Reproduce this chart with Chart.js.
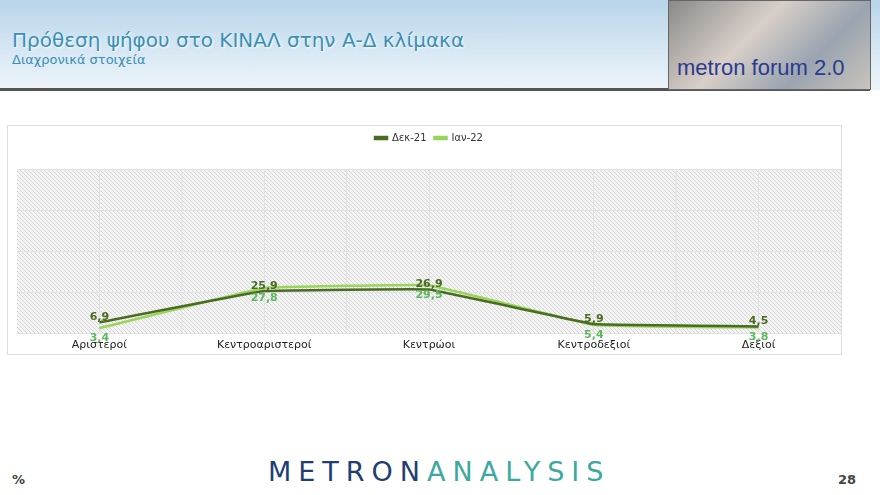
<!DOCTYPE html>
<html><head><meta charset="utf-8">
<script src="https://cdn.jsdelivr.net/npm/chart.js@4"></script>
<style>
body{margin:0;width:880px;height:495px;background:#fff;font-family:"DejaVu Sans",sans-serif;position:relative;overflow:hidden}
#hdr{position:absolute;left:0;top:0;width:880px;height:90px;background:linear-gradient(#b9d5ea,#eef5fa)}
#line{position:absolute;left:0;top:88px;width:870px;height:3px;background:#555}
#t1{position:absolute;left:12px;top:28px;font-size:20px;color:#3b8fb5;text-shadow:1px 1px 2px #fff}
#t2{position:absolute;left:12px;top:52px;font-size:13px;color:#3b8fb5}
#img{position:absolute;left:668px;top:0;width:201px;height:88px;background:linear-gradient(135deg,#8a8a8a,#d8cfc8 40%,#9aa4b0 70%,#c9c3bb);border:1px solid #666}
#img span{position:absolute;left:8px;bottom:8px;font-family:"Liberation Sans Narrow","Liberation Sans",sans-serif;font-size:22px;color:#2a3b8f}
#box{position:absolute;left:7px;top:125px;width:833px;height:228px;border:1px solid #ddd}
#wrap{position:absolute;left:7px;top:125px;width:834px;height:240px}
#logo{position:absolute;left:268px;top:456px;font-size:27px;letter-spacing:7px;color:#1f3f73}
#logo b{font-weight:normal;color:#3da8a0}
#pc{position:absolute;left:12px;top:472px;font-size:13px;font-weight:bold;color:#444}
#pg{position:absolute;left:838px;top:472px;font-size:13px;font-weight:bold;color:#444}
</style></head><body>
<div id="hdr"></div><div id="line"></div>
<div id="t1">Πρόθεση ψήφου στο ΚΙΝΑΛ στην Α-Δ κλίμακα</div>
<div id="t2">Διαχρονικά στοιχεία</div>
<div id="img"><span>metron forum 2.0</span></div>
<div id="box"></div>
<div id="wrap"><canvas id="c"></canvas></div>
<div id="logo">METRON<b>ANALYSIS</b></div>
<div id="pc">%</div><div id="pg">28</div>
<script>
const categories = ['Αριστεροί', 'Κεντροαριστεροί', 'Κεντρώοι', 'Κεντροδεξιοί', 'Δεξιοί'];
const dec21 = [6.9, 25.9, 26.9, 5.9, 4.5];
const jan22 = [3.4, 27.8, 29.5, 5.4, 3.8];

function hatch() {
  const p = document.createElement('canvas');
  p.width = 4; p.height = 4;
  const g = p.getContext('2d');
  g.fillStyle = '#f4f4f4'; g.fillRect(0, 0, 4, 4);
  g.strokeStyle = '#d6d6d6'; g.lineWidth = 1;
  g.beginPath(); g.moveTo(0, 0); g.lineTo(4, 4); g.stroke();
  return g.createPattern(p, 'repeat');
}

const bgPlugin = {
  id: 'bg',
  beforeDraw(chart) {
    const a = chart.chartArea, ctx = chart.ctx;
    ctx.save();
    ctx.fillStyle = hatch();
    ctx.fillRect(a.left, a.top, a.right - a.left, a.bottom - a.top);
    ctx.strokeStyle = '#e2e2e2';
    const w = (a.right - a.left) / categories.length;
    for (let i = 1; i < categories.length; i++) {
      const x = a.left + w * i;
      ctx.beginPath(); ctx.moveTo(x, a.top); ctx.lineTo(x, a.bottom); ctx.stroke();
    }
    ctx.restore();
  }
};

const labelPlugin = {
  id: 'lbl',
  afterDatasetsDraw(chart) {
    const ctx = chart.ctx;
    ctx.save();
    ctx.font = 'bold 11px "DejaVu Sans"';
    ctx.textAlign = 'center';
    chart.data.datasets.forEach((ds, di) => {
      chart.getDatasetMeta(di).data.forEach((pt, i) => {
        ctx.fillStyle = di === 0 ? '#4a6b22' : '#5cb85c';
        const y = di === 0 ? pt.y - 5 : pt.y + 10;
        ctx.fillText(String(ds.data[i]).replace('.', ','), pt.x, y);
      });
    });
    ctx.restore();
  }
};

const legendGap = {
  id: 'gap',
  beforeInit(chart) {
    const fit = chart.legend.fit;
    chart.legend.fit = function () { fit.bind(chart.legend)(); this.height += 16; };
  }
};

new Chart(document.getElementById('c'), {
  type: 'line',
  data: {
    labels: categories,
    datasets: [{
      label: 'Δεκ-21',
      data: dec21,
      borderColor: '#4a6b22',
      backgroundColor: '#4a6b22',
      borderWidth: 2.5,
      pointRadius: 0,
      tension: 0.05
    }, {
      label: 'Ιαν-22',
      data: jan22,
      borderColor: '#9ad45a',
      backgroundColor: '#9ad45a',
      borderWidth: 2.5,
      pointRadius: 0,
      tension: 0.05
    }]
  },
  options: {
    responsive: true,
    maintainAspectRatio: false,
    animation: false,
    layout: { padding: { left: 10, right: 0, top: 0, bottom: 8 } },
    plugins: {
      legend: {
        position: 'top',
        labels: { boxWidth: 12, boxHeight: 2, font: { size: 10, family: 'DejaVu Sans' }, color: '#333', padding: 8 }
      },
      tooltip: { enabled: false }
    },
    scales: {
      x: {
        offset: true,
        grid: { color: '#e2e2e2', offset: false, drawTicks: false },
        border: { display: false },
        ticks: { color: '#222', font: { size: 11, family: 'DejaVu Sans' }, padding: 5 }
      },
      y: {
        min: 0, max: 100,
        ticks: { stepSize: 25, display: false },
        grid: { color: '#e2e2e2', drawTicks: false },
        border: { display: false }
      }
    }
  },
  plugins: [bgPlugin, labelPlugin, legendGap]
});
</script>
</body></html>
